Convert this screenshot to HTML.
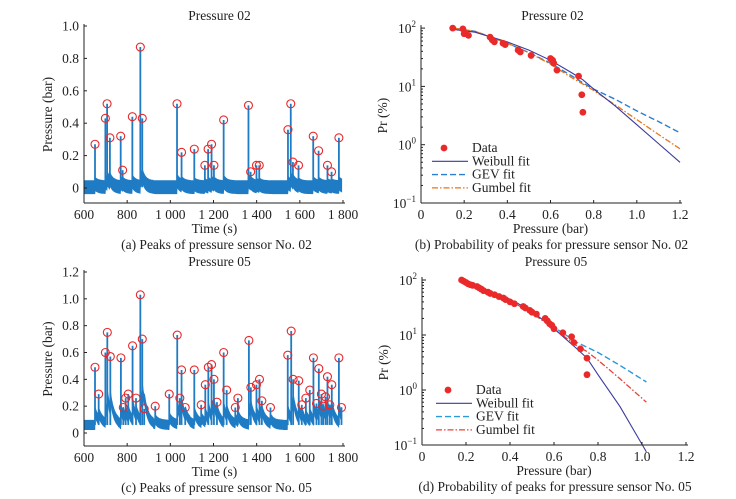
<!DOCTYPE html>
<html><head><meta charset="utf-8"><style>
html,body{margin:0;padding:0;background:#fff;}
svg{display:block;font-family:"Liberation Serif",serif;}
</style></head><body>
<svg id="fig" width="736" height="499" viewBox="0 0 736 499"></svg>
<script>
// ---- Data: panel (a) peaks of sensor 02 ----
const peakTimesA = [651,699,707,720,770,779,824,861,870,1031,1052,1111,1160,1175,1191,1202,1247,1362,1372,1399,1412,1545,1558,1568,1594,1662,1687,1728,1747,1781];
const peakValsA  = [0.27,0.43,0.52,0.31,0.32,0.11,0.44,0.87,0.43,0.52,0.22,0.24,0.14,0.24,0.27,0.14,0.42,0.51,0.10,0.14,0.14,0.36,0.52,0.16,0.14,0.32,0.23,0.14,0.10,0.31];
// ---- Data: panel (c) peaks of sensor 05 ----
const peakTimesC = [651,668,699,708,722,771,782,793,805,825,841,861,870,879,930,995,1032,1044,1052,1069,1111,1143,1162,1176,1191,1202,1216,1247,1261,1301,1313,1364,1373,1399,1413,1424,1464,1544,1560,1569,1595,1609,1628,1646,1663,1677,1688,1700,1708,1719,1728,1739,1748,1781,1793];
const peakValsC  = [0.49,0.29,0.60,0.75,0.57,0.56,0.19,0.26,0.29,0.65,0.26,1.03,0.70,0.18,0.20,0.29,0.73,0.26,0.47,0.19,0.47,0.21,0.36,0.49,0.51,0.40,0.23,0.60,0.32,0.19,0.26,0.69,0.34,0.36,0.40,0.24,0.19,0.58,0.76,0.40,0.39,0.21,0.26,0.32,0.56,0.22,0.48,0.29,0.20,0.27,0.42,0.21,0.36,0.56,0.19];
// ---- Data: panel (b) probabilities sensor 02 ----
const probPB = [0.147,0.194,0.20,0.205,0.22,0.32,0.33,0.34,0.38,0.39,0.45,0.46,0.51,0.60,0.61,0.615,0.63,0.73,0.745,0.75];
const probVB = [100,97,80,82,75,70,63,58,55,52,42,39,34,30,28,25,19,15,7.2,3.6];
const fitXB = [0.15,0.25,0.4,0.5,0.6,0.7,0.75,0.8,0.9,1.0,1.1,1.2];
const weibullB = [95,85,58,42,28,17,13,9,4.6,2.2,1.05,0.5];
const gevB     = [100,88,55,38,25,15,11.5,9,6,3.8,2.5,1.6];
const gumbelB  = [100,88,55,38,24,14,11,8.5,4.8,2.7,1.5,0.85];
// ---- Data: panel (d) probabilities sensor 05 ----
const probPD = [0.18,0.19,0.20,0.21,0.22,0.23,0.25,0.26,0.27,0.28,0.30,0.31,0.33,0.35,0.37,0.38,0.40,0.42,0.46,0.47,0.49,0.50,0.52,0.56,0.57,0.58,0.59,0.60,0.64,0.68,0.69,0.72,0.75,0.75];
const probVD = [100,95,90,85,82,80,76,72,68,64,60,57,54,50,47,44,40,37,33,31,28,26,24,20,18,16,15,13,11,9.3,7.3,5.6,3.8,1.9];
const fitXD = [0.18,0.3,0.4,0.5,0.6,0.7,0.75,0.8,0.9,1.02];
const weibullD = [90,65,45,27,13,5.8,3.8,1.9,0.5,0.075];
const gevD     = [90,62,42,25,14,7.5,6,4.8,2.8,1.4];
const gumbelD  = [90,62,42,25,13,6.5,5,3.5,1.6,0.6];
const tickTime = [600,800,1000,1200,1400,1600,1800];
const tickTimeLbl = ["600","800","1 000","1 200","1 400","1 600","1 800"];
const tickP = [0,0.2,0.4,0.6,0.8,1.0,1.2];
const tickPLbl = ["0","0.2","0.4","0.6","0.8","1.0","1.2"];

const NS = "http://www.w3.org/2000/svg";
const svg = document.getElementById('fig');
function mk(parent, tag, attrs, name, text){
  const e = document.createElementNS(NS, tag);
  for (const k in attrs) e.setAttribute(k, attrs[k]);
  
  
  if (text !== undefined) e.textContent = text;
  parent.appendChild(e);
  return e;
}
function txt(p, x, y, s, name, anchor, size){
  return mk(p,'text',{x:x,y:y,'text-anchor':anchor||'middle','font-size':size||13.5,fill:'#222'},name,s);
}

function timePanel(cfg){
  const g = mk(svg,'g',{},cfg.name);
  const X = t => cfg.x0 + (t-600)/1200*(cfg.x1-cfg.x0);
  const Y = v => cfg.y0 - v*(cfg.y0-cfg.yTop)/cfg.vTop;
  let top=[], bot=[];
  for (let t=600; t<=1795; t+=2){
    let b = cfg.base;
    for (let i=0;i<cfg.times.length;i++){
      const d = t-cfg.times[i];
      if (d>=0 && d<60) b += cfg.tail*cfg.vals[i]*Math.exp(-d/cfg.decay);
    }
    top.push(X(t).toFixed(1)+','+Y(b+cfg.half).toFixed(1));
    bot.unshift(X(t).toFixed(1)+','+Y(b-cfg.half).toFixed(1));
  }
  mk(g,'polygon',{points:top.concat(bot).join(' '),fill:'#1f7cc4',stroke:'#1f7cc4','stroke-width':0.8},'signal-band');
  for (let i=0;i<cfg.times.length;i++){
    const x = X(cfg.times[i]);
    mk(g,'line',{x1:x,x2:x,y1:Y(cfg.base),y2:Y(cfg.vals[i]),stroke:'#1f7cc4','stroke-width':1.8},'signal-spike');
  }
  for (let i=0;i<cfg.times.length;i++){
    mk(g,'circle',{cx:X(cfg.times[i]),cy:Y(cfg.vals[i]),r:4,fill:'none',stroke:'#e8282b','stroke-width':1.1},'peak-marker');
  }
  mk(g,'line',{x1:cfg.x0,x2:cfg.x0,y1:cfg.yTop-2,y2:cfg.yb,stroke:'#222','stroke-width':1},'y-axis');
  mk(g,'line',{x1:cfg.x0,x2:cfg.x1+2,y1:cfg.yb,y2:cfg.yb,stroke:'#222','stroke-width':1},'x-axis');
  tickTime.forEach((t,i)=>{
    mk(g,'line',{x1:X(t),x2:X(t),y1:cfg.yb,y2:cfg.yb-3,stroke:'#222'},'x-tick');
    txt(g,X(t),cfg.yb+16,tickTimeLbl[i],'x-tick-label');
  });
  cfg.yt.forEach((v,i)=>{
    mk(g,'line',{x1:cfg.x0,x2:cfg.x0+3,y1:Y(v),y2:Y(v),stroke:'#222'},'y-tick');
    txt(g,cfg.x0-5,Y(v)+4.5,cfg.ytl[i],'y-tick-label','end');
  });
  txt(g,(cfg.x0+cfg.x1)/2+6,cfg.titleY,cfg.title,'chart-title');
  txt(g,(cfg.x0+cfg.x1)/2+1,cfg.yb+30,'Time (s)','x-axis-title');
  const yl = txt(g,0,0,'Pressure (bar)','y-axis-title');
  yl.setAttribute('transform','translate('+(cfg.x0-32)+','+((cfg.yTop+cfg.yb)/2)+') rotate(-90)');
  txt(g,(cfg.x0+cfg.x1)/2+3,cfg.yb+46,cfg.caption,'caption');
}

function probPanel(cfg){
  const g = mk(svg,'g',{},cfg.name);
  const X = p => cfg.x0 + p/1.2*(cfg.x1-cfg.x0);
  const Y = v => cfg.yb - (Math.log10(v)+1)*cfg.dec;
  const path = (xs,ys)=> xs.map((x,i)=>(i?'L':'M')+X(x).toFixed(1)+','+Y(ys[i]).toFixed(1)).join(' ');
  mk(g,'path',{d:path(cfg.fx,cfg.gev),fill:'none',stroke:cfg.gevCol,'stroke-width':1.4,'stroke-dasharray':'6,3'},'gev-fit-line');
  mk(g,'path',{d:path(cfg.fx,cfg.gum),fill:'none',stroke:cfg.gumCol,'stroke-width':1.3,'stroke-dasharray':'6,2,1.5,2'},'gumbel-fit-line');
  mk(g,'path',{d:path(cfg.fx,cfg.wei),fill:'none',stroke:'#3a3aa0','stroke-width':1.1},'weibull-fit-line');
  cfg.px.forEach((p,i)=>{
    mk(g,'circle',{cx:X(p),cy:Y(cfg.pv[i]),r:3.4,fill:'#ea2a2a'},'data-point');
  });
  mk(g,'line',{x1:cfg.x0,x2:cfg.x0,y1:Y(100)-3,y2:cfg.yb,stroke:'#222'},'y-axis');
  mk(g,'line',{x1:cfg.x0,x2:cfg.x1+2,y1:cfg.yb,y2:cfg.yb,stroke:'#222'},'x-axis');
  tickP.forEach((p,i)=>{
    mk(g,'line',{x1:X(p),x2:X(p),y1:cfg.yb,y2:cfg.yb-3,stroke:'#222'},'x-tick');
    txt(g,X(p),cfg.yb+16,tickPLbl[i],'x-tick-label');
  });
  [-1,0,1,2].forEach(e=>{
    const y = Y(Math.pow(10,e));
    mk(g,'line',{x1:cfg.x0,x2:cfg.x0+4,y1:y,y2:y,stroke:'#222'},'y-tick');
    const t = txt(g,cfg.x0-5,y+5,'10','y-tick-label','end');
    const s = document.createElementNS(NS,'tspan');
    s.setAttribute('dy','-6'); s.setAttribute('font-size','9'); s.textContent = String(e).replace('-','\u2212');
    t.textContent = '10'; t.appendChild(s);
    t.setAttribute('x', cfg.x0-5);
    for (let k=2;k<10 && e<2;k++){
      const yy = Y(k*Math.pow(10,e));
      mk(g,'line',{x1:cfg.x0,x2:cfg.x0+2,y1:yy,y2:yy,stroke:'#222'},'y-minor-tick');
    }
  });
  txt(g,(cfg.x0+cfg.x1)/2+2,cfg.titleY,cfg.title,'chart-title');
  txt(g,(cfg.x0+cfg.x1)/2,cfg.yb+30,'Pressure (bar)','x-axis-title');
  const yl = txt(g,0,0,'Pr (%)','y-axis-title');
  yl.setAttribute('transform','translate('+(cfg.x0-34)+','+((Y(100)+cfg.yb)/2)+') rotate(-90)');
  txt(g,(cfg.x0+cfg.x1)/2+1,cfg.yb+46,cfg.caption,'caption');
  const L = cfg.leg;
  const lg = mk(g,'g',{},'legend');
  mk(lg,'circle',{cx:L.x+12,cy:L.y-4,r:3.4,fill:'#ea2a2a'},'legend-data-marker');
  txt(lg,L.x+40,L.y,'Data','legend-data-label','start');
  mk(lg,'line',{x1:L.x,x2:L.x+36,y1:L.y+L.dy-4,y2:L.y+L.dy-4,stroke:'#3a3aa0','stroke-width':1.2},'legend-weibull-line');
  txt(lg,L.x+40,L.y+L.dy,'Weibull fit','legend-weibull-label','start');
  mk(lg,'line',{x1:L.x,x2:L.x+36,y1:L.y+2*L.dy-4,y2:L.y+2*L.dy-4,stroke:cfg.gevCol,'stroke-width':1.4,'stroke-dasharray':'6,3'},'legend-gev-line');
  txt(lg,L.x+40,L.y+2*L.dy,'GEV fit','legend-gev-label','start');
  mk(lg,'line',{x1:L.x,x2:L.x+36,y1:L.y+3*L.dy-4,y2:L.y+3*L.dy-4,stroke:cfg.gumCol,'stroke-width':1.3,'stroke-dasharray':'6,2,1.5,2'},'legend-gumbel-line');
  txt(lg,L.x+40,L.y+3*L.dy,'Gumbel fit','legend-gumbel-label','start');
}

timePanel({name:'panel-a',times:peakTimesA,vals:peakValsA,x0:84,x1:343,y0:188,yTop:26,vTop:1.0,yb:203,
  base:0.005,half:0.04,tail:0.08,decay:15,yt:[0,0.2,0.4,0.6,0.8,1.0],ytl:["0","0.2","0.4","0.6","0.8","1.0"],
  title:'Pressure 02',titleY:20,caption:'(a) Peaks of pressure sensor No. 02'});
timePanel({name:'panel-c',times:peakTimesC,vals:peakValsC,x0:84,x1:343,y0:433,yTop:272,vTop:1.2,yb:446,
  base:0.06,half:0.035,tail:0.2,decay:18,yt:[0,0.2,0.4,0.6,0.8,1.0,1.2],ytl:["0","0.2","0.4","0.6","0.8","1.0","1.2"],
  title:'Pressure 05',titleY:266,caption:'(c) Peaks of pressure sensor No. 05'});
probPanel({name:'panel-b',px:probPB,pv:probVB,fx:fitXB,wei:weibullB,gev:gevB,gum:gumbelB,x0:421,x1:680,yb:203,dec:58.3,
  gevCol:'#2a7fd0',gumCol:'#e8751a',title:'Pressure 02',titleY:20,caption:'(b) Probability of peaks for pressure sensor No. 02',
  leg:{x:432,y:152,dy:13.3}});
probPanel({name:'panel-d',px:probPD,pv:probVD,fx:fitXD,wei:weibullD,gev:gevD,gum:gumbelD,x0:422,x1:686,yb:445,dec:55,
  gevCol:'#2a9ad8',gumCol:'#e8403a',title:'Pressure 05',titleY:266,caption:'(d) Probability of peaks for pressure sensor No. 05',
  leg:{x:436,y:394,dy:13.3}});
</script>
</body></html>
